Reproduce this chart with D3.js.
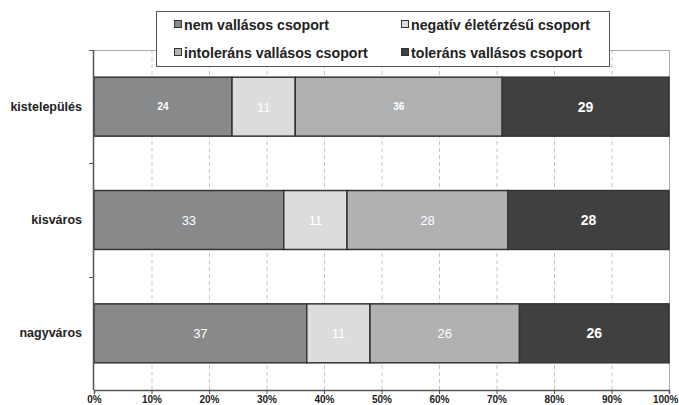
<!DOCTYPE html>
<html>
<head>
<meta charset="utf-8">
<script src="https://cdn.jsdelivr.net/npm/d3@7"></script>
<style>
  body { margin: 0; background: #fff; }
  svg { display: block; font-family: "Liberation Sans", Arial, sans-serif; }
</style>
</head>
<body>
<svg id="chart"></svg>
<script>
// data
var categories = ["kistelepülés", "kisváros", "nagyváros"];
var seriesNames = ["nem vallásos csoport", "negatív életérzésű csoport", "intoleráns vallásos csoport", "toleráns vallásos csoport"];
var nemVallasos = [24, 33, 37];
var negativ = [11, 11, 11];
var intolerans = [36, 28, 26];
var tolerans = [29, 28, 26];
var xTicks = [0, 10, 20, 30, 40, 50, 60, 70, 80, 90, 100];

var colors = ["#88898b", "#dcdcdd", "#b0b1b3", "#404040"];

var w = 679, h = 405;
var margin = { top: 50, right: 10, bottom: 15, left: 94 };

var svg = d3.select("#chart").attr("width", w).attr("height", h);

// stack rows
var rows = categories.map(function (c, i) {
    return { cat: c, s0: nemVallasos[i], s1: negativ[i], s2: intolerans[i], s3: tolerans[i] };
});
var stack = d3.stack().keys(["s0", "s1", "s2", "s3"]);
var layers = stack(rows);

var x = d3.scaleLinear().domain([0, 100]).range([margin.left, 669]);
var y = d3.scaleBand().domain(categories).range([margin.top, 390])
    .paddingInner(0.48).paddingOuter(0.24);

// gridlines
svg.append("g").selectAll("line")
    .data(xTicks.slice(1, -1))
    .enter().append("line")
    .attr("x1", function (d) { return x(d) + 0.5; })
    .attr("x2", function (d) { return x(d) + 0.5; })
    .attr("y1", margin.top).attr("y2", 390)
    .style("stroke", "#c4c4c4")
    .style("stroke-dasharray", "4,3");

// plot border top/right
svg.append("line").attr("x1", 89).attr("x2", 669.5).attr("y1", 50.5).attr("y2", 50.5)
    .style("stroke", "#a8a8a8");
svg.append("line").attr("x1", 669.5).attr("x2", 669.5).attr("y1", 50).attr("y2", 390)
    .style("stroke", "#a8a8a8");

// bars
var g = svg.append("g");
layers.forEach(function (layer, li) {
    g.selectAll(".bar" + li)
        .data(layer)
        .enter().append("rect")
        .attr("x", function (d) { return x(d[0]); })
        .attr("y", function (d) { return y(d.data.cat); })
        .attr("width", function (d) { return x(d[1]) - x(d[0]); })
        .attr("height", y.bandwidth())
        .style("fill", colors[li])
        .style("stroke", "#333")
        .style("stroke-width", 1.5);
});

// value labels
var small = { "0-0": true, "2-0": true }; // small bold labels in kistelepülés row
layers.forEach(function (layer, li) {
    g.selectAll(".lab" + li)
        .data(layer)
        .enter().append("text")
        .attr("x", function (d) { return (x(d[0]) + x(d[1])) / 2; })
        .attr("y", function (d, i) {
            var off = small[li + "-" + i] ? -2 : 0;
            return y(d.data.cat) + y.bandwidth() / 2 + 5 + off;
        })
        .attr("text-anchor", "middle")
        .style("fill", "#fff")
        .style("font-size", function (d, i) { return small[li + "-" + i] ? "10px" : (li == 3 ? "14px" : "13px"); })
        .style("font-weight", function (d, i) { return (li == 3 || small[li + "-" + i]) ? "bold" : "normal"; })
        .text(function (d) { return d[1] - d[0]; });
});

// y axis
var yAxisG = svg.append("g");
yAxisG.append("line").attr("x1", 93.5).attr("x2", 93.5).attr("y1", 50).attr("y2", 390)
    .style("stroke", "#555").style("stroke-width", 1.5);
var bounds = [50, 163.3, 276.7];
yAxisG.selectAll(".yt").data(bounds).enter().append("line")
    .attr("x1", 89).attr("x2", 94)
    .attr("y1", function (d) { return Math.round(d) + 0.5; })
    .attr("y2", function (d) { return Math.round(d) + 0.5; })
    .style("stroke", "#555");
yAxisG.selectAll("text").data(categories).enter().append("text")
    .attr("x", 82)
    .attr("y", function (d) { return y(d) + y.bandwidth() / 2 + 4; })
    .attr("text-anchor", "end")
    .style("font-size", "12.5px")
    .style("font-weight", "bold")
    .style("fill", "#222")
    .text(function (d) { return d; });

// x axis
var xAxis = d3.axisBottom(x).tickValues(xTicks).tickSize(4).tickFormat(function (d) { return d + "%"; });
var xg = svg.append("g").attr("transform", "translate(0,390)").call(xAxis);
xg.select(".domain").style("stroke", "#555").style("stroke-width", 1.5);
xg.selectAll(".tick line").style("stroke", "#555");
xg.selectAll(".tick text")
    .attr("y", 6)
    .style("font-family", "'Liberation Sans Narrow', 'Arial Narrow', sans-serif")
    .style("font-size", "10px")
    .style("font-weight", "bold")
    .style("fill", "#222");
xg.selectAll(".tick text").filter(function (d) { return d == 100; })
    .attr("text-anchor", "end").attr("x", 9);

// legend
var legend = svg.append("g");
legend.append("rect").attr("x", 156.5).attr("y", 11.5).attr("width", 453).attr("height", 55)
    .style("fill", "#fff").style("stroke", "#555");
var legPos = [[175, 25], [402, 25], [175, 53], [402, 53]];
seriesNames.forEach(function (name, i) {
    legend.append("rect")
        .attr("x", legPos[i][0] - 0.5).attr("y", legPos[i][1] - 4.5)
        .attr("width", 7).attr("height", 7)
        .style("fill", colors[i]).style("stroke", "#333");
    legend.append("text")
        .attr("x", legPos[i][0] + 9).attr("y", legPos[i][1] + 5)
        .style("font-size", "14.2px")
        .style("font-weight", "bold")
        .style("fill", "#222")
        .text(name);
});
</script>
</body>
</html>
